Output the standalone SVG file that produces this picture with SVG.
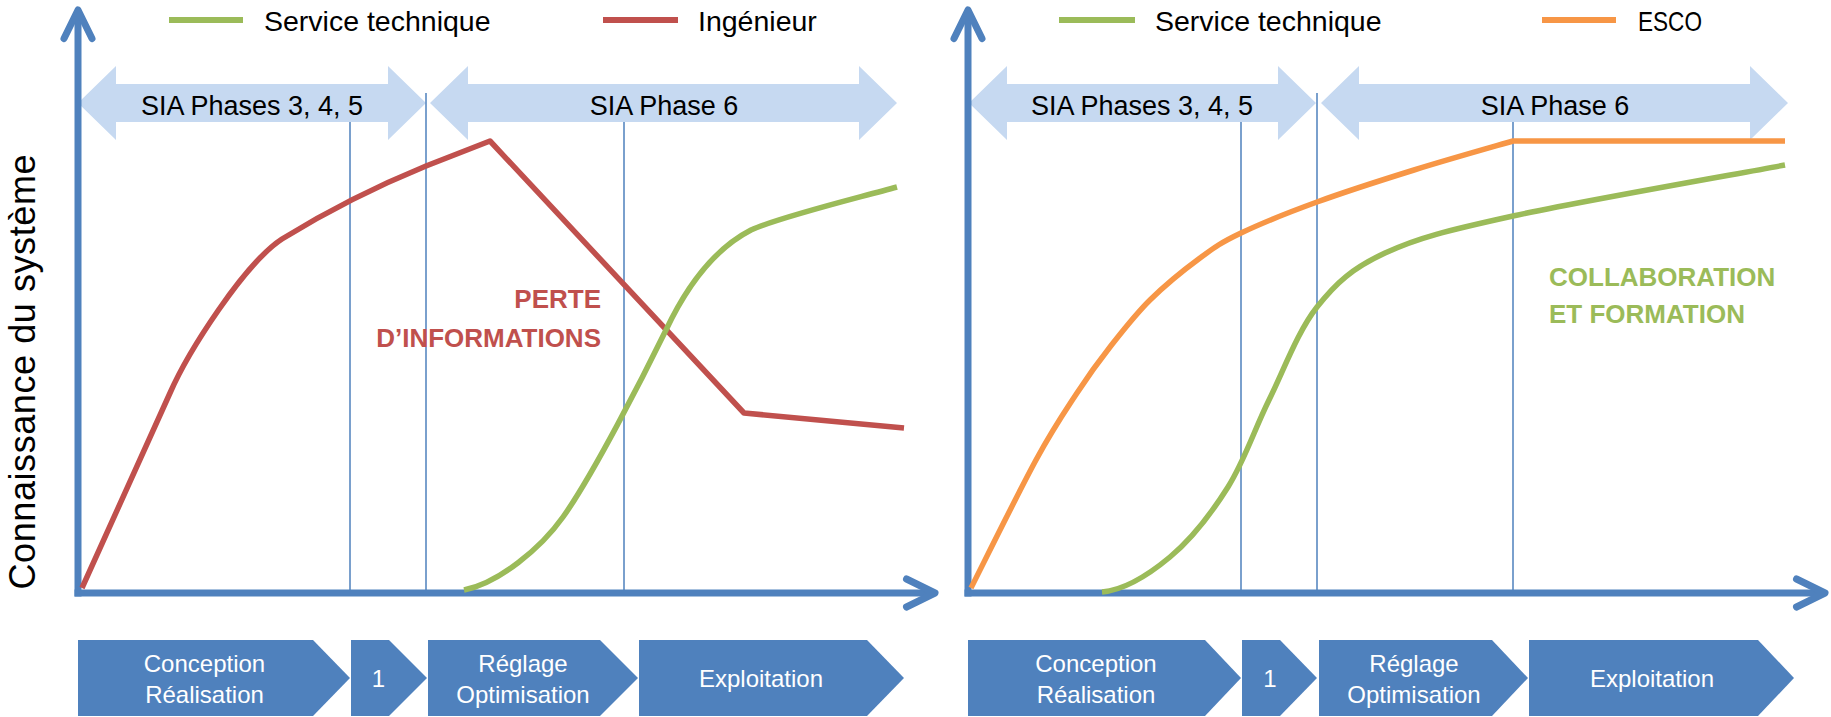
<svg xmlns="http://www.w3.org/2000/svg" width="1831" height="717" viewBox="0 0 1831 717">
<defs>
<style>
.txt{font-family:'Liberation Sans',Arial,sans-serif;fill:#000}
.leg{font-size:28.5px}
.sia{font-size:27px;text-anchor:middle}
.chev{fill:#4F81BD}
.chevt{font-family:'Liberation Sans',Arial,sans-serif;font-size:24px;fill:#fff;text-anchor:middle}
.band{fill:#C6D9F1}
.axis{stroke:#4F81BD;stroke-width:7;fill:none;marker-end:url(#arr)}
.grid{stroke:#4F81BD;stroke-width:1.5;fill:none}
.curve{fill:none;stroke-width:5.5;stroke-linejoin:round}
.legline{stroke-width:6;fill:none}
.red{stroke:#C0504D}.green{stroke:#9BBB59}.orange{stroke:#F79646}
.note{font-family:'Liberation Sans',Arial,sans-serif;font-weight:bold;font-size:26px}
</style>
<marker id="arr" markerUnits="userSpaceOnUse" viewBox="0 0 40 40" markerWidth="40" markerHeight="40" refX="34" refY="20" orient="auto">
<polyline points="5.5,6 34,20 5.5,34" fill="none" stroke="#4F81BD" stroke-width="7" stroke-linecap="round" stroke-linejoin="round"/>
</marker>
</defs>
<rect width="1831" height="717" fill="#fff"/>

<!-- y-axis label -->
<text id="ylabel" class="txt" font-size="36" textLength="435" lengthAdjust="spacing" text-anchor="middle" transform="translate(35,372) rotate(-90)">Connaissance du système</text>

<!-- Phase bands -->
<g id="bands">
<g id="band-left-345"><polygon class="band" points="78,103 116,66 116,84 388,84 388,66 426,103 388,140 388,122 116,122 116,140"/><text class="txt sia" x="252" y="115">SIA Phases 3, 4, 5</text></g>
<g id="band-left-6"><polygon class="band" points="430,103 468,66 468,84 859,84 859,66 897,103 859,140 859,122 468,122 468,140"/><text class="txt sia" x="664" y="115">SIA Phase 6</text></g>
<g id="band-right-345"><polygon class="band" points="969,103 1007,66 1007,84 1278,84 1278,66 1316,103 1278,140 1278,122 1007,122 1007,140"/><text class="txt sia" x="1142" y="115">SIA Phases 3, 4, 5</text></g>
<g id="band-right-6"><polygon class="band" points="1321,103 1359,66 1359,84 1750,84 1750,66 1788,103 1750,140 1750,122 1359,122 1359,140"/><text class="txt sia" x="1555" y="115">SIA Phase 6</text></g>
</g>

<!-- Connectors: grid lines, axes, curves -->
<g id="connectors">
<g id="grid">
<path class="grid" d="M350,122V592M426,93V592M624,122V592"/>
<path class="grid" d="M1241,122V592M1317,93V592M1513,122V592"/>
</g>
<g id="axes">
<path class="axis" d="M78,596.5V10"/>
<path class="axis" d="M74.5,593H935"/>
<path class="axis" d="M968,596.5V10"/>
<path class="axis" d="M964.5,593H1825"/>
</g>
<g id="curves">
<path id="ingenieur" class="curve red" d="M82,588 L170,393 C188,352 244,264 282,239 C316,218 360,193 426,166 L490,141 L744,413 L904,428"/>
<path id="service-left" class="curve green" d="M464,590 C499,583 541,548 563,517 C593,475 644,375 666,330 C684,292 712,250 751,230 C780,217 850,200 897,187"/>
<path id="esco" class="curve orange" d="M971,588 C981.8,566.7 1018.3,492.5 1036,460 C1053.7,427.5 1064.7,411.8 1077,393 C1089.3,374.2 1097.8,362.5 1110,347 C1122.2,331.5 1135,314.8 1150,300 C1165,285.2 1184.8,269.2 1200,258 C1215.2,246.8 1221.5,242.3 1241,233 C1260.5,223.7 1288.2,212.5 1317,202 C1345.8,191.5 1381.3,180.2 1414,170 C1446.7,159.8 1496.5,145.8 1513,141 L1785,141"/>
<path id="service-right" class="curve green" d="M1102,592 C1125,590 1149,574.5 1170,557 C1191,539.5 1211.5,513.2 1228,487 C1244.5,460.8 1254.2,430 1269,400 C1283.8,370 1297.7,331.5 1317,307 C1336.3,282.5 1352.3,268.2 1385,253 C1417.7,237.8 1446.3,230.7 1513,216 C1579.7,201.3 1739.7,173.5 1785,165"/>
</g>
</g>

<!-- Legends -->
<g id="legend-left">
<line class="legline green" x1="169" y1="20" x2="243" y2="20"/>
<text class="txt leg" x="264" y="31">Service technique</text>
<line class="legline red" x1="603" y1="20" x2="678" y2="20"/>
<text class="txt leg" x="698" y="31">Ingénieur</text>
</g>
<g id="legend-right">
<line class="legline green" x1="1059" y1="20" x2="1135" y2="20"/>
<text class="txt leg" x="1155" y="31">Service technique</text>
<line class="legline orange" x1="1542" y1="20" x2="1616" y2="20"/>
<text class="txt leg" x="1638" y="31" textLength="64" lengthAdjust="spacingAndGlyphs">ESCO</text>
</g>

<!-- Annotations -->
<g id="note-perte">
<text class="note" fill="#C0504D" text-anchor="end" x="601" y="308">PERTE</text>
<text class="note" fill="#C0504D" text-anchor="end" x="601" y="347">D’INFORMATIONS</text>
</g>
<g id="note-collab">
<text class="note" fill="#9BBB59" x="1549" y="286">COLLABORATION</text>
<text class="note" fill="#9BBB59" x="1549" y="323">ET FORMATION</text>
</g>

<!-- Process chevrons left -->
<g id="chev-left-1"><polygon class="chev" points="78,640 313,640 350,678 313,716 78,716"/><text class="chevt" x="204.5" y="672">Conception</text><text class="chevt" x="204.5" y="703">Réalisation</text></g>
<g id="chev-left-2"><polygon class="chev" points="351,640 389,640 427,678 389,716 351,716"/><text class="chevt" x="378.5" y="687">1</text></g>
<g id="chev-left-3"><polygon class="chev" points="428,640 600,640 638,678 600,716 428,716"/><text class="chevt" x="523" y="672">Réglage</text><text class="chevt" x="523" y="703">Optimisation</text></g>
<g id="chev-left-4"><polygon class="chev" points="639,640 867,640 904,678 867,716 639,716"/><text class="chevt" x="761" y="687">Exploitation</text></g>

<!-- Process chevrons right -->
<g id="chev-right-1"><polygon class="chev" points="968,640 1205,640 1241,678 1205,716 968,716"/><text class="chevt" x="1096" y="672">Conception</text><text class="chevt" x="1096" y="703">Réalisation</text></g>
<g id="chev-right-2"><polygon class="chev" points="1242,640 1280,640 1317,678 1280,716 1242,716"/><text class="chevt" x="1270" y="687">1</text></g>
<g id="chev-right-3"><polygon class="chev" points="1319,640 1492,640 1528,678 1492,716 1319,716"/><text class="chevt" x="1414" y="672">Réglage</text><text class="chevt" x="1414" y="703">Optimisation</text></g>
<g id="chev-right-4"><polygon class="chev" points="1529,640 1758,640 1794,678 1758,716 1529,716"/><text class="chevt" x="1652" y="687">Exploitation</text></g>
</svg>
